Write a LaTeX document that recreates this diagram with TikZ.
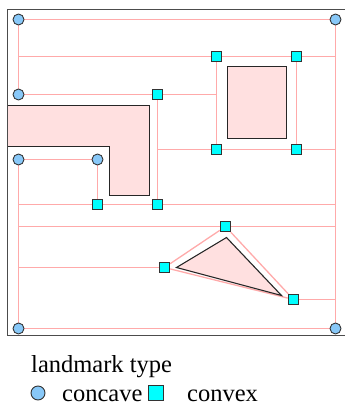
\documentclass[tikz,border=0pt]{standalone}
\usepackage{fontspec}
\setmainfont{Liberation Serif}
\usetikzlibrary{backgrounds}
\definecolor{linkpink}{HTML}{FFAAAA}
\definecolor{obstfill}{HTML}{FFE0E0}
\definecolor{cavefill}{HTML}{88C8F8}
\definecolor{vexfill}{HTML}{00FFFF}
\def\link{\draw[link]}
\def\legendfont{\rmfamily\fontsize{24.5bp}{29bp}\selectfont}

\begin{document}
\begin{tikzpicture}[x=1bp,y=-1bp,
    concave/.style={circle,draw=black!80,fill=cavefill,line width=0.9bp,minimum size=11bp,inner sep=0pt},
    convex/.style={rectangle,draw=black!80,fill=vexfill,line width=0.9bp,minimum size=10.5bp,inner sep=0pt},
    link/.style={color=linkpink,line width=1.3bp},
    obstacle/.style={draw=black!85,fill=obstfill,line width=1.1bp},
    caption/.style={inner sep=0pt,anchor=base west,font=\legendfont}]
    \useasboundingbox (0,0) rectangle (345,406);
    \clip (0,0) rectangle (345,406);

    \begin{scope}[shift={(0.5,0.5)}]
    \draw[obstacle] (7,105) -- (149,105) -- (149,195) -- (109,195) -- (109,146) -- (7,146);
    \draw[obstacle] (227,66) rectangle (286,138);
    \draw[obstacle] (226,237) -- (176,267) -- (281,295) -- cycle;
    \draw[black!70,line width=1.3bp] (7,9) rectangle (350,335);

    \node[concave] (ca) at (18,19) {};
    \node[concave] (cb) at (335,19) {};
    \node[concave] (cc) at (18,94) {};
    \node[concave] (cd) at (18,159) {};
    \node[concave] (ce) at (97,159) {};
    \node[concave] (cf) at (18,328) {};
    \node[concave] (cg) at (335,328) {};

    \node[convex] (va) at (216,56) {};
    \node[convex] (vb) at (296,56) {};
    \node[convex] (vc) at (157,94) {};
    \node[convex] (vd) at (216,149) {};
    \node[convex] (ve) at (296,149) {};
    \node[convex] (vf) at (97,204) {};
    \node[convex] (vg) at (157,204) {};
    \node[convex] (vh) at (225,226) {};
    \node[convex] (vi) at (164,267) {};
    \node[convex] (vj) at (293,299) {};

    \coordinate (jl1) at (18,56);
    \coordinate (jl2) at (18,204);
    \coordinate (jl3) at (18,226);
    \coordinate (jl4) at (18,267);
    \coordinate (jr1) at (335,56);
    \coordinate (jr2) at (335,149);
    \coordinate (jr3) at (335,204);
    \coordinate (jr4) at (335,226);
    \coordinate (jr5) at (335,299);
    \coordinate (jm1) at (216,94);
    \coordinate (jm2) at (157,149);

    \begin{scope}[on background layer]
        \link (ca) -- (cb);
        \link (ca) -- (jl1) -- (cc);
        \link (cb) -- (jr1) -- (jr2) -- (jr3) -- (jr4) -- (jr5) -- (cg);
        \link (jl1) -- (va) -- (vb) -- (jr1);
        \link (cc) -- (vc) -- (jm1);
        \link (va) -- (jm1) -- (vd);
        \link (vb) -- (ve);
        \link (vc) -- (jm2) -- (vg);
        \link (jm2) -- (vd) -- (ve) -- (jr2);
        \link (cd) -- (ce) -- (vf);
        \link (cd) -- (jl2) -- (jl3) -- (jl4) -- (cf);
        \link (jl2) -- (vf) -- (vg) -- (jr3);
        \link (jl3) -- (vh) -- (jr4);
        \link (jl4) -- (vi);
        \link (vi) -- (vh) -- (vj) -- (vi);
        \link (vj) -- (jr5);
        \link (cf) -- (cg);
    \end{scope}
    \end{scope}

    \node[caption] (title) at (31,372) {landmark type};
    \node[concave,minimum size=14bp] (kcave) at (38,393) {};
    \node[caption] (tcave) at (62,401) {concave};
    \node[convex,minimum size=15bp] (kvex) at (156,393) {};
    \node[caption] (tvex) at (187,401) {convex};
\end{tikzpicture}
\end{document}
